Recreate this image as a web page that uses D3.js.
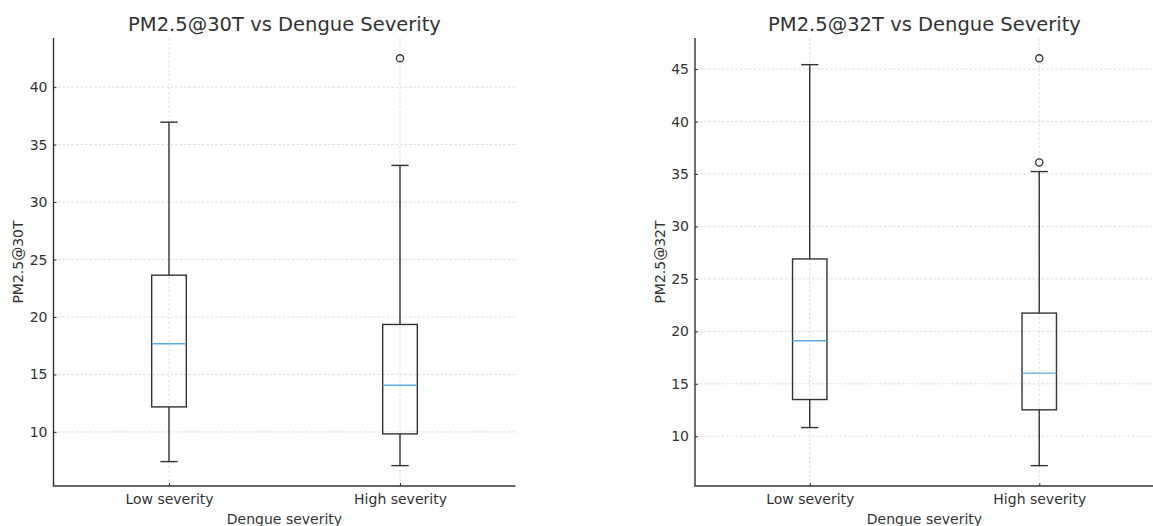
<!DOCTYPE html>
<html>
<head>
<meta charset="utf-8">
<script src="https://cdn.jsdelivr.net/npm/d3@7"></script>
<style>
  body { margin: 0; background: #fff; }
  svg text { font-family: "DejaVu Sans", sans-serif; fill: #333; }
</style>
</head>
<body>
<svg id="chart" width="1153" height="526"></svg>
<script>
// categories on the x axis
var categories = ["Low severity", "High severity"];

// box stats: [whiskerLow, q1, median, q3, whiskerHigh]
var pm30Stats = [
  [7.42, 12.18, 17.67, 23.64, 36.95],
  [7.07, 9.83, 14.06, 19.35, 33.19]
];
var pm30Outliers = [[], [42.5]];

var pm32Stats = [
  [10.83, 13.5, 19.1, 26.9, 45.42],
  [7.2, 12.52, 16.02, 21.74, 35.23]
];
var pm32Outliers = [[], [46.02, 36.1]];

var pm30Ticks = [10, 15, 20, 25, 30, 35, 40];
var pm32Ticks = [10, 15, 20, 25, 30, 35, 40, 45];

var svg = d3.select("#chart");

function drawBoxplot(opts) {
  let g = svg.append("g");
  let left = opts.left, right = opts.right, top = 38, bottom = 486;

  // matplotlib-like padding of 5% on the data range
  let allVals = [];
  opts.stats.forEach(s => allVals.push(s[0], s[4]));
  opts.outliers.forEach(o => allVals.push(...o));
  let lo = d3.min(allVals), hi = d3.max(allVals);
  let pad = (hi - lo) * 0.05;

  let y = d3.scaleLinear().domain([lo - pad, hi + pad]).range([bottom, top]);
  let x = d3.scaleLinear().domain([0.5, 2.5]).range([left, right]);
  let boxW = x(1.15) - x(1);

  // grid
  g.append("g").selectAll("line")
    .data(opts.ticks)
    .enter().append("line")
    .attr("x1", left).attr("x2", right)
    .attr("y1", d => y(d)).attr("y2", d => y(d))
    .attr("stroke", "#d4d4d4").attr("stroke-width", 0.8)
    .attr("stroke-dasharray", "2.5,2");
  g.append("g").selectAll("line")
    .data(categories)
    .enter().append("line")
    .attr("x1", (d, i) => x(i + 1)).attr("x2", (d, i) => x(i + 1))
    .attr("y1", top).attr("y2", bottom)
    .attr("stroke", "#d4d4d4").attr("stroke-width", 0.8)
    .attr("stroke-dasharray", "2.5,2");

  // boxes
  let boxes = g.append("g").selectAll("g")
    .data(opts.stats)
    .enter().append("g");

  boxes.append("line") // lower whisker
    .attr("x1", (d, i) => x(i + 1)).attr("x2", (d, i) => x(i + 1))
    .attr("y1", d => y(d[0])).attr("y2", d => y(d[1]));
  boxes.append("line") // upper whisker
    .attr("x1", (d, i) => x(i + 1)).attr("x2", (d, i) => x(i + 1))
    .attr("y1", d => y(d[3])).attr("y2", d => y(d[4]));
  boxes.append("line") // lower cap
    .attr("x1", (d, i) => x(i + 1) - boxW / 4).attr("x2", (d, i) => x(i + 1) + boxW / 4)
    .attr("y1", d => y(d[0])).attr("y2", d => y(d[0]));
  boxes.append("line") // upper cap
    .attr("x1", (d, i) => x(i + 1) - boxW / 4).attr("x2", (d, i) => x(i + 1) + boxW / 4)
    .attr("y1", d => y(d[4])).attr("y2", d => y(d[4]));
  boxes.selectAll("line")
    .attr("stroke", "#333").attr("stroke-width", 1.4);

  boxes.append("rect")
    .attr("x", (d, i) => x(i + 1) - boxW / 2)
    .attr("width", boxW)
    .attr("y", d => y(d[3]))
    .attr("height", d => y(d[1]) - y(d[3]))
    .attr("fill", "none")
    .attr("stroke", "#333").attr("stroke-width", 1.4);

  boxes.append("line") // median
    .attr("x1", (d, i) => x(i + 1) - boxW / 2).attr("x2", (d, i) => x(i + 1) + boxW / 2)
    .attr("y1", d => y(d[2])).attr("y2", d => y(d[2]))
    .attr("stroke", "#5aaee8").attr("stroke-width", 1.4);

  // outliers
  opts.outliers.forEach(function (pts, i) {
    g.append("g").selectAll("circle")
      .data(pts)
      .enter().append("circle")
      .attr("cx", x(i + 1))
      .attr("cy", d => y(d))
      .attr("r", 3.6)
      .attr("fill", "none")
      .attr("stroke", "#333").attr("stroke-width", 1.3);
  });

  // y axis
  let yAxis = g.append("g")
    .attr("transform", "translate(" + left + ",0)")
    .call(d3.axisLeft(y).tickValues(opts.ticks).tickSize(-3).tickPadding(6));
  yAxis.select(".domain").remove();
  yAxis.selectAll(".tick line").attr("stroke", "#333");
  yAxis.selectAll("text").attr("font-size", 14).style("fill", "#333");

  // x axis
  let xAxis = g.append("g")
    .attr("transform", "translate(0," + bottom + ")")
    .call(d3.axisBottom(x).tickValues([1, 2]).tickFormat(d => categories[d - 1]).tickSize(-3).tickPadding(8));
  xAxis.select(".domain").remove();
  xAxis.selectAll(".tick line").attr("stroke", "#333");
  xAxis.selectAll("text").attr("font-size", 14).style("fill", "#333");

  // spines (left + bottom only)
  g.append("path")
    .attr("d", "M" + left + "," + top + "V" + bottom + "H" + right)
    .attr("fill", "none")
    .attr("stroke", "#333").attr("stroke-width", 1.4);

  // title and labels
  g.append("text")
    .attr("x", (left + right) / 2).attr("y", 31)
    .attr("text-anchor", "middle")
    .attr("font-size", 19.5)
    .text(opts.title);
  g.append("text")
    .attr("x", (left + right) / 2).attr("y", 524)
    .attr("text-anchor", "middle")
    .attr("font-size", 14)
    .text("Dengue severity");
  g.append("text")
    .attr("transform", "translate(" + opts.yLabelX + "," + (top + bottom) / 2 + ") rotate(-90)")
    .attr("text-anchor", "middle")
    .attr("font-size", 14)
    .text(opts.yLabel);
}

drawBoxplot({
  left: 53.5, right: 515.5,
  stats: pm30Stats, outliers: pm30Outliers, ticks: pm30Ticks,
  title: "PM2.5@30T vs Dengue Severity", yLabel: "PM2.5@30T", yLabelX: 23
});

drawBoxplot({
  left: 695, right: 1154,
  stats: pm32Stats, outliers: pm32Outliers, ticks: pm32Ticks,
  title: "PM2.5@32T vs Dengue Severity", yLabel: "PM2.5@32T", yLabelX: 665
});
</script>
</body>
</html>
